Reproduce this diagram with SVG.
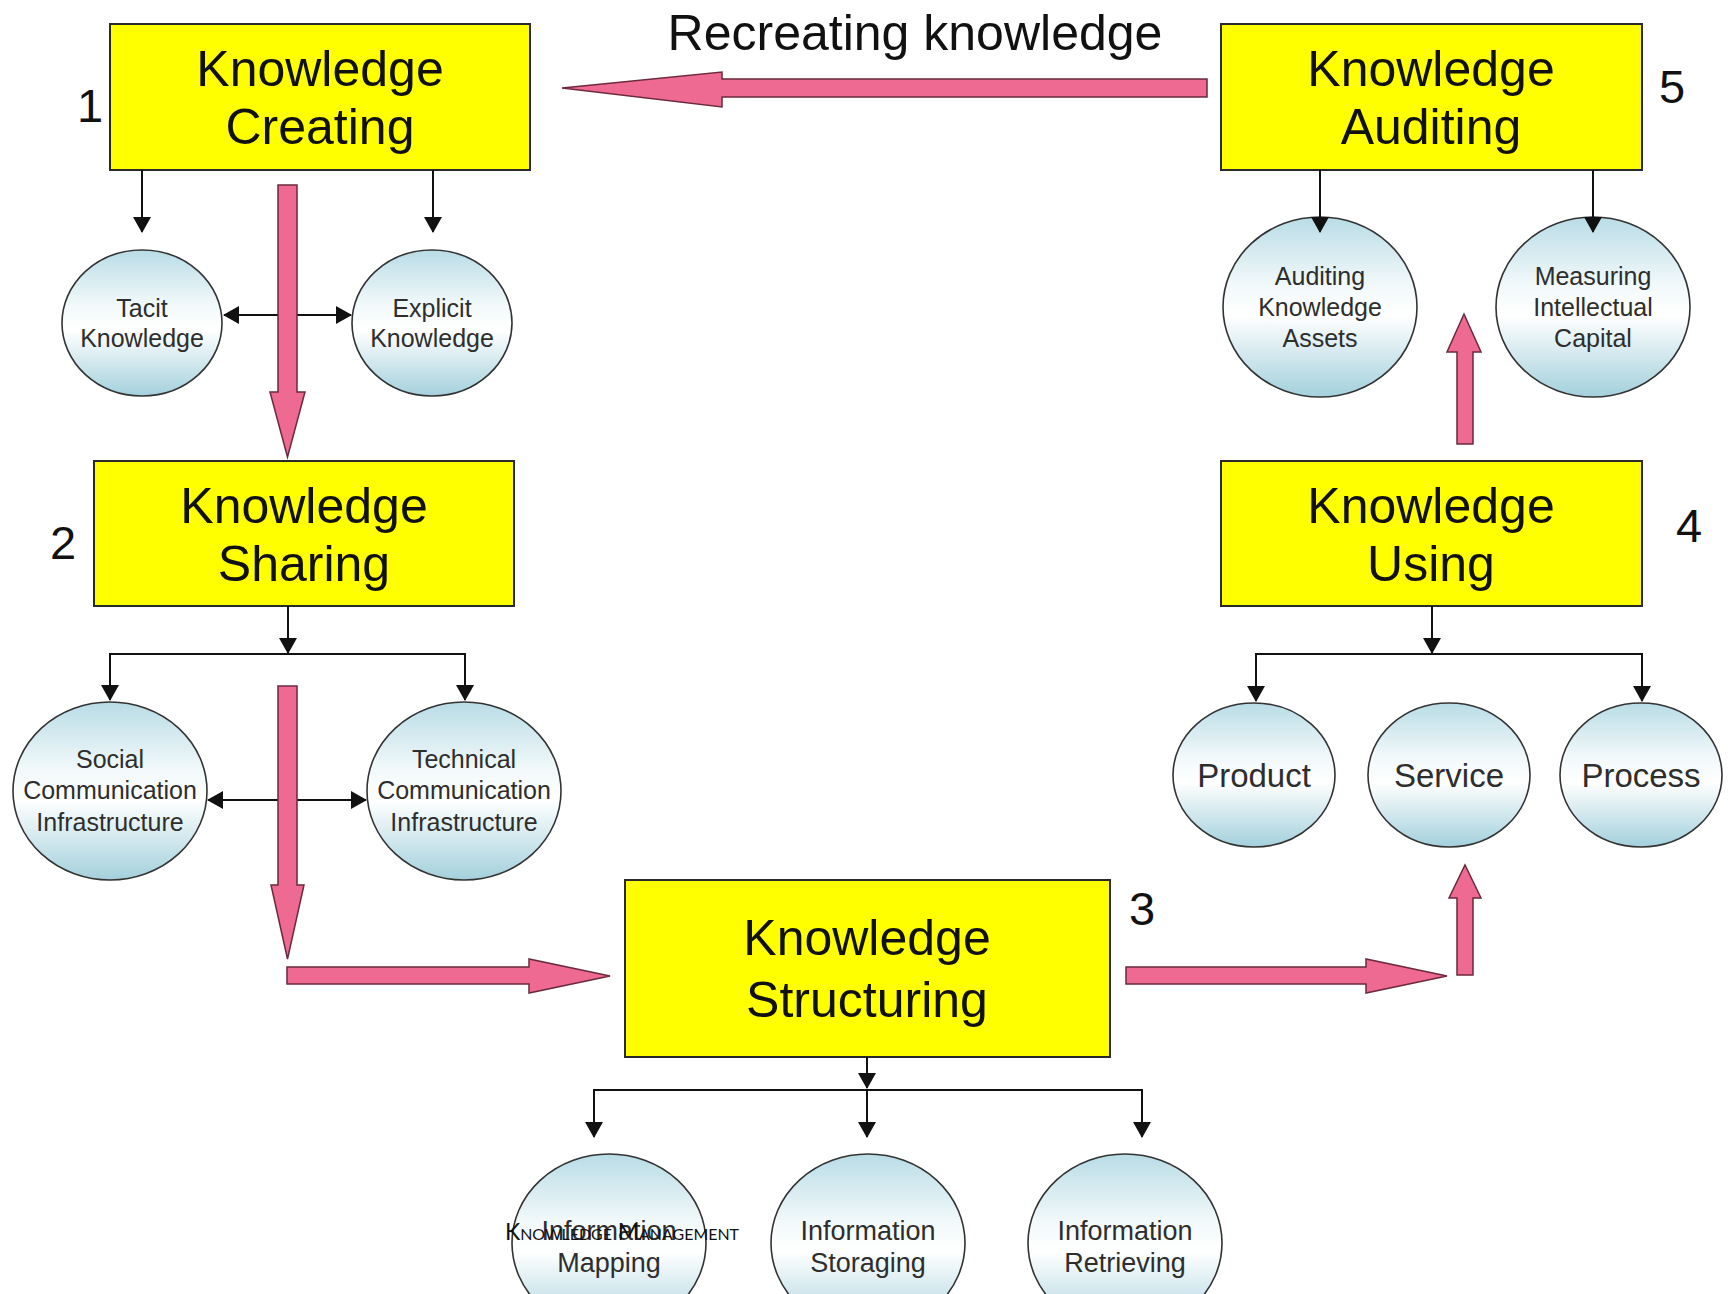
<svg xmlns="http://www.w3.org/2000/svg" width="1728" height="1294" viewBox="0 0 1728 1294">
<style>
.box{fill:#ffff00;stroke:#2a2a2a;stroke-width:2}
.bt{font-family:"Liberation Sans",Arial,sans-serif;font-size:50px;fill:#111;text-anchor:middle}
.num{font-family:"Liberation Sans",Arial,sans-serif;font-size:47px;fill:#111;text-anchor:middle}
.circ{fill:url(#cg);stroke:#333;stroke-width:1.6}
.ct{font-family:"Liberation Sans",Arial,sans-serif;font-size:25px;fill:#2e2e2e;text-anchor:middle}
.ct33{font-family:"Liberation Sans",Arial,sans-serif;font-size:33px;fill:#2e2e2e;text-anchor:middle}
.ct27{font-family:"Liberation Sans",Arial,sans-serif;font-size:27px;fill:#2e2e2e;text-anchor:middle}
.ln{fill:none;stroke:#111;stroke-width:2;marker-end:url(#ah)}
.dl{fill:none;stroke:#111;stroke-width:2;marker-end:url(#ah);marker-start:url(#ah)}
.pk{fill:#ef6a93;stroke:#6b2a3d;stroke-width:1.5;stroke-linejoin:miter}
</style>
<defs>
<linearGradient id="cg" x1="0" y1="0" x2="0" y2="1">
<stop offset="0" stop-color="#b9dce6"/>
<stop offset="0.38" stop-color="#f2f9fa"/>
<stop offset="0.55" stop-color="#ffffff"/>
<stop offset="1" stop-color="#a3d0dc"/>
</linearGradient>
<marker id="ah" markerUnits="userSpaceOnUse" viewBox="0 0 16 18" refX="15" refY="9" markerWidth="16" markerHeight="18" orient="auto-start-reverse">
<path d="M0,0 L16,9 L0,18 z" fill="#111"/>
</marker>
</defs>
<rect width="1728" height="1294" fill="#ffffff"/>

<g id="title">
<text class="bt" x="915" y="50">Recreating knowledge</text>
</g>

<g id="n1">
<rect class="box" x="110" y="24" width="420" height="146"/>
<text class="bt" x="320" y="86">Knowledge</text>
<text class="bt" x="320" y="144">Creating</text>
<text class="num" x="90" y="122">1</text>
</g>
<g id="n2">
<rect class="box" x="94" y="461" width="420" height="145"/>
<text class="bt" x="304" y="523">Knowledge</text>
<text class="bt" x="304" y="581">Sharing</text>
<text class="num" x="63" y="559">2</text>
</g>
<g id="n3">
<rect class="box" x="625" y="880" width="485" height="177"/>
<text class="bt" x="867" y="955">Knowledge</text>
<text class="bt" x="867" y="1017">Structuring</text>
<text class="num" x="1142" y="925">3</text>
</g>
<g id="n4">
<rect class="box" x="1221" y="461" width="421" height="145"/>
<text class="bt" x="1431" y="523">Knowledge</text>
<text class="bt" x="1431" y="581">Using</text>
<text class="num" x="1689" y="542">4</text>
</g>
<g id="n5">
<rect class="box" x="1221" y="24" width="421" height="146"/>
<text class="bt" x="1431" y="86">Knowledge</text>
<text class="bt" x="1431" y="144">Auditing</text>
<text class="num" x="1672" y="103">5</text>
</g>

<g id="tacit"><ellipse class="circ" cx="142" cy="323" rx="80" ry="73"/>
<text class="ct" x="142" y="317">Tacit</text><text class="ct" x="142" y="347">Knowledge</text></g>
<g id="explicit"><ellipse class="circ" cx="432" cy="323" rx="80" ry="73"/>
<text class="ct" x="432" y="317">Explicit</text><text class="ct" x="432" y="347">Knowledge</text></g>

<g id="social"><ellipse class="circ" cx="110" cy="791" rx="97" ry="89"/>
<text class="ct" x="110" y="768">Social</text><text class="ct" x="110" y="799">Communication</text><text class="ct" x="110" y="831">Infrastructure</text></g>
<g id="technical"><ellipse class="circ" cx="464" cy="791" rx="97" ry="89"/>
<text class="ct" x="464" y="768">Technical</text><text class="ct" x="464" y="799">Communication</text><text class="ct" x="464" y="831">Infrastructure</text></g>

<g id="mapping"><ellipse class="circ" cx="609" cy="1243" rx="97" ry="89"/>
<text class="ct27" x="609" y="1240">Information</text><text class="ct27" x="609" y="1272">Mapping</text></g>
<g id="storaging"><ellipse class="circ" cx="868" cy="1243" rx="97" ry="89"/>
<text class="ct27" x="868" y="1240">Information</text><text class="ct27" x="868" y="1272">Storaging</text></g>
<g id="retrieving"><ellipse class="circ" cx="1125" cy="1243" rx="97" ry="89"/>
<text class="ct27" x="1125" y="1240">Information</text><text class="ct27" x="1125" y="1272">Retrieving</text></g>

<g id="auditing"><ellipse class="circ" cx="1320" cy="307" rx="97" ry="90"/>
<text class="ct" x="1320" y="285">Auditing</text><text class="ct" x="1320" y="316">Knowledge</text><text class="ct" x="1320" y="347">Assets</text></g>
<g id="measuring"><ellipse class="circ" cx="1593" cy="307" rx="97" ry="90"/>
<text class="ct" x="1593" y="285">Measuring</text><text class="ct" x="1593" y="316">Intellectual</text><text class="ct" x="1593" y="347">Capital</text></g>

<g id="product"><ellipse class="circ" cx="1254" cy="775" rx="81" ry="72"/>
<text class="ct33" x="1254" y="787">Product</text></g>
<g id="service"><ellipse class="circ" cx="1449" cy="775" rx="81" ry="72"/>
<text class="ct33" x="1449" y="787">Service</text></g>
<g id="process"><ellipse class="circ" cx="1641" cy="775" rx="81" ry="72"/>
<text class="ct33" x="1641" y="787">Process</text></g>

<g id="connectors">
<path class="ln" d="M142,170 V232"/>
<path class="ln" d="M433,170 V232"/>
<path class="dl" d="M224,315 H351"/>
<path class="ln" d="M288,606 V653"/>
<path class="ln" d="M288,654 H110 V700"/>
<path class="ln" d="M288,654 H465 V700"/>
<path class="dl" d="M208,800 H366"/>
<path class="ln" d="M867,1057 V1088"/>
<path class="ln" d="M867,1090 H594 V1137"/>
<path class="ln" d="M867,1090 H1142 V1137"/>
<path class="ln" d="M867,1090 V1137"/>
<path class="ln" d="M1432,606 V653"/>
<path class="ln" d="M1432,654 H1256 V701"/>
<path class="ln" d="M1432,654 H1642 V701"/>
<path class="ln" d="M1320,170 V232"/>
<path class="ln" d="M1593,170 V232"/>
<polygon class="pk" points="278,185 297,185 297,392 305,392 287.5,457 270,392 278,392"/>
<polygon class="pk" points="278,686 297,686 297,885 304,885 287.5,959 271,885 278,885"/>
<polygon class="pk" points="287,967 529,967 529,959 610,976 529,993 529,984 287,984"/>
<polygon class="pk" points="1126,967 1366,967 1366,959 1447,976 1366,993 1366,984 1126,984"/>
<polygon class="pk" points="1457,975 1457,898 1449,898 1465,865 1481,898 1473,898 1473,975"/>
<polygon class="pk" points="1457,444 1457,352 1447,352 1464,314 1481,352 1473,352 1473,444"/>
<polygon class="pk" points="1207,79 722,79 722,72 562,88 722,107 722,97 1207,97"/>
</g>

<g id="footer">
<text x="505" y="1240" font-family="Lato,'Open Sans',sans-serif" font-size="23" font-variant="small-caps" fill="#111" textLength="234" lengthAdjust="spacingAndGlyphs">Knowledge Management</text>
</g>
</svg>
